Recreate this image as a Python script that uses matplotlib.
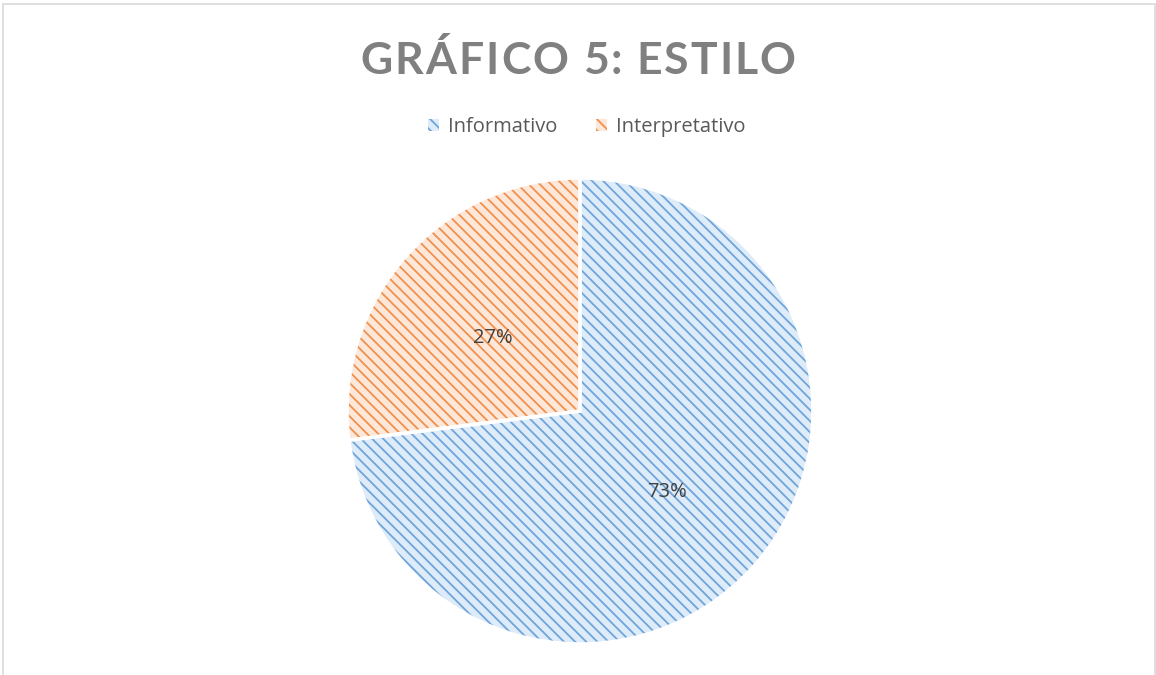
import matplotlib
matplotlib.use("Agg")
import matplotlib.pyplot as plt
import matplotlib.transforms as mtransforms
from matplotlib.patches import Rectangle

# ---------------------------------
# Data
# ---------------------------------

labels = ["Informativo", "Interpretativo"]
shares = [73, 27]

hatch_colors = ["#6fa5da", "#f0904e"]
fill_colors = ["#deebf8", "#fde7d8"]

title_text = "GRÁFICO 5: ESTILO"

plt.rcParams["font.family"] = ["Open Sans", "DejaVu Sans"]
plt.rcParams["hatch.linewidth"] = 1.3

W, H = 1156, 675
fig = plt.figure(figsize=(W / 100, H / 100), dpi=100)

# chart area border
fig.add_artist(Rectangle((3 / W, -0.01), (1152 / W), (H - 4) / H + 0.01,
                         transform=fig.transFigure, fill=False,
                         edgecolor="#d9d9d9", linewidth=1.2))

# ---------------------------------
# Pie
# ---------------------------------

cx, cy, r = 580, 675 - 411, 233
ax = fig.add_axes([(cx - r) / W, (cy - r) / H, 2 * r / W, 2 * r / H])

wedges, _, autotexts = ax.pie(
    shares,
    startangle=90,
    counterclock=False,
    colors=fill_colors,
    autopct="%1.0f%%",
    pctdistance=0.5,
    wedgeprops=dict(linewidth=0),
    textprops=dict(color="#404040", fontsize=14.5),
)
for w, hc in zip(wedges, hatch_colors):
    w.set_hatch("\\\\\\")
    w.set_edgecolor(hc)

# white separators on top
outline, _ = ax.pie(
    shares,
    startangle=90,
    counterclock=False,
    colors=["none", "none"],
    wedgeprops=dict(linewidth=2.5, edgecolor="white", facecolor="none"),
)
shift = mtransforms.ScaledTranslation(0, -4 / 100, fig.dpi_scale_trans)
for t in autotexts:
    t.set_zorder(5)
    t.set_transform(ax.transData + shift)

ax.set_xlim(-1, 1)
ax.set_ylim(-1, 1)
ax.set_aspect("equal")
ax.axis("off")

# ---------------------------------
# Legend
# ---------------------------------

fig.legend(
    wedges, labels,
    loc="center",
    bbox_to_anchor=(587 / W, 1 - 127 / H),
    ncol=2,
    frameon=False,
    fontsize=14.5,
    labelcolor="#595959",
    handlelength=0.55,
    handleheight=0.55,
    handletextpad=0.45,
    columnspacing=1.9,
)

# ---------------------------------
# Title with letter spacing
# ---------------------------------

fig.canvas.draw()
renderer = fig.canvas.get_renderer()
title_font = ["Lato", "DejaVu Sans"]
title_size = 32
widths = []
for ch in title_text:
    t = fig.text(0, 0, ch if ch != " " else "a", fontsize=title_size,
                 fontweight="bold", family=title_font)
    bb = t.get_window_extent(renderer)
    widths.append(bb.width if ch != " " else bb.width * 0.45)
    t.remove()

target_width = 795 - 360
spacing = (target_width - sum(widths)) / (len(title_text) - 1)
x = 578 - target_width / 2
for ch, wd in zip(title_text, widths):
    fig.text(x / W, 1 - 57 / H, ch, fontsize=title_size, fontweight="bold",
             family=title_font, color="#808080", ha="left", va="center_baseline")
    x += wd + spacing

fig.savefig("out.png", dpi=100)
